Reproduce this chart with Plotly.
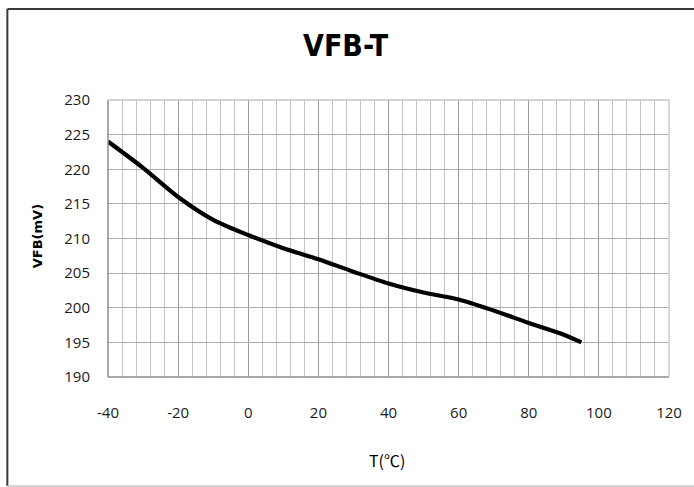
import plotly.graph_objects as go

temps = [-40, -30, -20, -10, 0, 10, 20, 30, 40, 50, 60, 70, 80, 90, 95]
vfb = [224.0, 220.2, 216.0, 212.7, 210.5, 208.6, 207.0, 205.2, 203.5, 202.2, 201.2, 199.6, 197.8, 196.1, 195.0]
x_ticks = [-40, -20, 0, 20, 40, 60, 80, 100, 120]
y_ticks = [190, 195, 200, 205, 210, 215, 220, 225, 230]

W, H = 694, 487
L, R, T, B = 108, 671, 100, 377

fig = go.Figure()
fig.add_trace(go.Scatter(x=temps, y=vfb, mode="lines",
                         line=dict(color="black", width=4.2, shape="spline", smoothing=0.8),
                         hoverinfo="skip", showlegend=False))

tickfont = dict(family="Open Sans, DejaVu Sans, sans-serif", size=15, color="#1a1a1a")

fig.update_layout(
    width=W, height=H,
    margin=dict(l=L, r=W - R, t=T, b=H - B, pad=0),
    paper_bgcolor="white", plot_bgcolor="white",
    showlegend=False,
    xaxis=dict(range=[-40, 120], tickmode="array", tickvals=x_ticks,
               ticktext=[str(v) for v in x_ticks],
               showgrid=True, gridcolor="#9a9a9a", gridwidth=1.3,
               minor=dict(dtick=4, showgrid=True, gridcolor="#c4c4c4", gridwidth=1.3),
               zeroline=False, showline=False,
               ticks="outside", ticklen=22, tickcolor="rgba(0,0,0,0)",
               tickfont=tickfont, fixedrange=True),
    yaxis=dict(range=[190, 230], tickmode="array", tickvals=y_ticks,
               ticktext=[str(v) for v in y_ticks],
               showgrid=True, gridcolor="#adadad", gridwidth=1.3,
               zeroline=False, showline=False,
               ticks="outside", ticklen=14, tickcolor="rgba(0,0,0,0)",
               tickfont=tickfont, fixedrange=True),
)

def px_x(p):
    return (p - L) / (R - L)

def px_y(p):
    return (B - p) / (B - T)

shapes = [
    # plot frame
    dict(type="line", xref="paper", yref="paper", x0=0, x1=0, y0=0, y1=1, line=dict(color="#8c8c8c", width=1.5)),
    dict(type="line", xref="paper", yref="paper", x0=0, x1=1, y0=0, y1=0, line=dict(color="#8c8c8c", width=1.5)),
    dict(type="line", xref="paper", yref="paper", x0=0, x1=1, y0=1, y1=1, line=dict(color="#c4c4c4", width=1.3)),
    dict(type="line", xref="paper", yref="paper", x0=1, x1=1, y0=0, y1=1, line=dict(color="#c4c4c4", width=1.3)),
    # outer chart border
    dict(type="line", xref="paper", yref="paper", x0=px_x(7), x1=px_x(700), y0=px_y(9), y1=px_y(9), line=dict(color="#3a3a3a", width=2)),
    dict(type="line", xref="paper", yref="paper", x0=px_x(7), x1=px_x(7), y0=px_y(9), y1=px_y(486), line=dict(color="#3a3a3a", width=2)),
    dict(type="line", xref="paper", yref="paper", x0=px_x(7), x1=px_x(700), y0=px_y(486), y1=px_y(486), line=dict(color="#c8c8c8", width=1.5)),
]
fig.update_layout(shapes=shapes)

fig.add_annotation(text="<b>VFB-T</b>", xref="paper", yref="paper",
                   x=px_x(347), y=px_y(46), showarrow=False, xanchor="center", yanchor="middle",
                   font=dict(family="DejaVu Sans Condensed, DejaVu Sans, sans-serif", size=30,
                             color="black"))
fig.add_annotation(text="<b>VFB(mV)</b>", xref="paper", yref="paper",
                   x=px_x(37), y=px_y(236), showarrow=False, xanchor="center", yanchor="middle",
                   textangle=-90,
                   font=dict(family="DejaVu Sans, sans-serif", size=13, color="black"))
fig.add_annotation(text="T(℃)", xref="paper", yref="paper",
                   x=px_x(388), y=px_y(460), showarrow=False, xanchor="center", yanchor="middle",
                   font=dict(family="Noto Sans CJK SC, DejaVu Sans, sans-serif", size=16, color="black"))

fig.write_html("out.html", config={"displayModeBar": False},
               post_script="document.body.style.margin='0';document.body.style.overflow='hidden';")
